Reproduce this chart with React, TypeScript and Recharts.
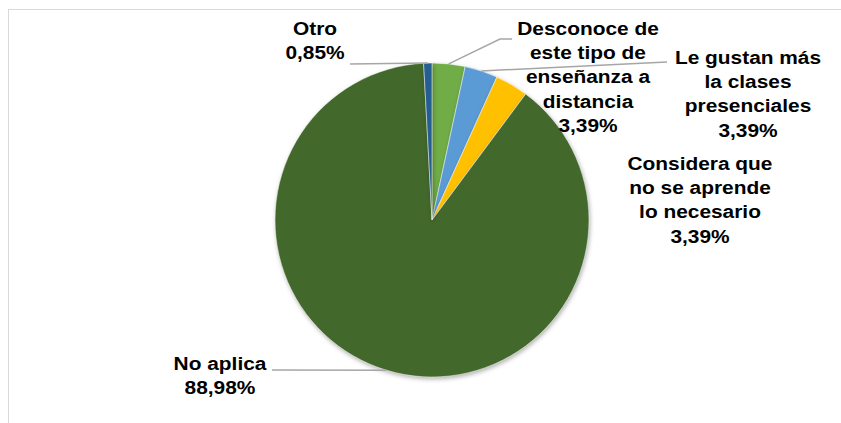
import React from "react";
import { PieChart, Pie, Cell } from "recharts";

// ---- data ----
const categories = [
  "Desconoce de este tipo de enseñanza a distancia",
  "Le gustan más la clases presenciales",
  "Considera que no se aprende lo necesario",
  "No aplica",
  "Otro",
];
const values = [3.39, 3.39, 3.39, 88.98, 0.85];
const labelLines = [
  ["Desconoce de", "este tipo de", "enseñanza a", "distancia"],
  ["Le gustan más", "la clases", "presenciales"],
  ["Considera que", "no se aprende", "lo necesario"],
  ["No aplica"],
  ["Otro"],
];
const colors = ["#70AD47", "#5B9BD5", "#FFC000", "#43682B", "#255E91"];

// ---- label layout (offsets relative to pie centre) ----
const LABEL_LAYOUT: Record<number, { dx: number; dy: number; line: number[][] | null }> = {
  0: { dx: 156, dy: -185, line: [[80, -181], [68, -181]] },
  1: { dx: 316, dy: -156, line: [[235, -158]] },
  2: { dx: 268, dy: -50, line: null },
  3: { dx: -212, dy: 150, line: [[-160, 150]] },
  4: { dx: -117, dy: -185, line: [[-82, -156]] },
};

const data = categories.map((name, i) => ({ name, value: values[i], idx: i }));

const RAD = Math.PI / 180;
const LINE_H = 24.2;

const renderLabel = (props: any) => {
  const { cx, cy, midAngle, outerRadius, index, value } = props;
  const layout = LABEL_LAYOUT[index];
  const lines = [...labelLines[index], value.toFixed(2).replace(".", ",") + "%"];
  const ex = cx + outerRadius * Math.cos(-midAngle * RAD);
  const ey = cy + outerRadius * Math.sin(-midAngle * RAD);
  const tx = cx + layout.dx;
  const ty = cy + layout.dy;
  let path: string | null = null;
  if (layout.line) {
    const pts = layout.line.map(([x, y]) => [cx + x, cy + y]);
    pts.push([ex, ey]);
    path = "M" + pts.map((p) => p[0] + "," + p[1]).join(" L");
  }
  return (
    <g key={"lbl" + index}>
      {path && <path d={path} stroke="#A6A6A6" strokeWidth={1.5} fill="none" />}
      <g transform={`translate(${tx},${ty}) scale(1.16,1)`}>
        <text
          x={0}
          y={0}
          textAnchor="middle"
          fontFamily="'Liberation Sans', Arial, sans-serif"
          fontWeight="bold"
          fontSize={18}
          fill="#000"
        >
          {lines.map((l, i) => (
            <tspan key={i} x={0} y={i * LINE_H}>
              {l}
            </tspan>
          ))}
        </text>
      </g>
    </g>
  );
};

export default function App() {
  return (
    <div
      style={{
        position: "absolute",
        left: 0,
        top: 0,
        width: 841,
        height: 423,
        overflow: "hidden",
        background: "#fff",
      }}
    >
      <style>{`.recharts-pie-sector path { filter: drop-shadow(1px 2px 2px rgba(0,0,0,0.3)); }`}</style>
      <div
        style={{
          position: "absolute",
          left: 8,
          top: 9,
          width: 1000,
          height: 1000,
          border: "1.5px solid #D9D9D9",
        }}
      />
      <div style={{ position: "absolute", left: 0, top: 0 }}>
        <PieChart width={841} height={423} margin={{ top: 0, right: 0, bottom: 0, left: 0 }}>
          <Pie
            data={data}
            dataKey="value"
            nameKey="name"
            cx={432}
            cy={220}
            outerRadius={157}
            startAngle={90}
            endAngle={-270}
            stroke="#fff"
            strokeWidth={0.5}
            label={renderLabel}
            labelLine={false}
            isAnimationActive={false}
          >
            {data.map((d, i) => (
              <Cell key={i} fill={colors[i]} />
            ))}
          </Pie>
        </PieChart>
      </div>
    </div>
  );
}
